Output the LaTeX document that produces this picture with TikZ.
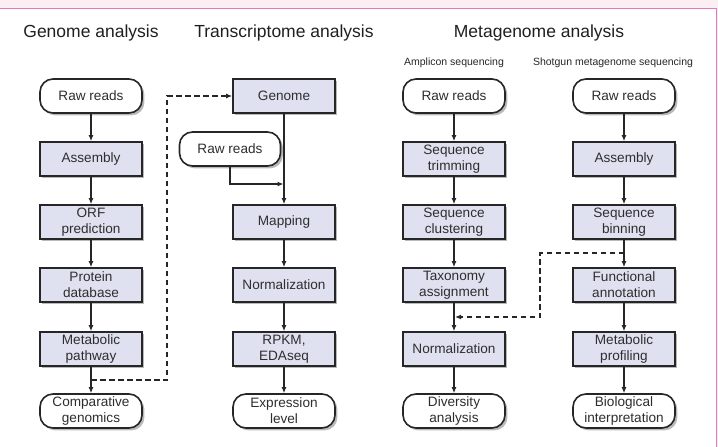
\documentclass[tikz,border=0pt]{standalone}
\usepackage{fontspec}
\setmainfont{Liberation Sans}
\usetikzlibrary{arrows.meta,shadows}
\definecolor{boxfill}{HTML}{DFE1F0}
\definecolor{linecol}{HTML}{262626}
\definecolor{txtcol}{HTML}{2E2E2E}
\definecolor{pinkline}{HTML}{E27AB8}
\definecolor{pinkband}{HTML}{FCEFF4}
\newcommand{\boxfont}{\fontsize{13.6}{15.8}\selectfont}
\newcommand{\titlefont}{\fontsize{17.5}{20}\selectfont}
\newcommand{\subfont}{\fontsize{10.5}{12}\selectfont}
\begin{document}
\begin{tikzpicture}[x=1pt,y=-1pt,
  base/.style={draw=linecol, line width=1.6pt, minimum width=102pt, minimum height=34pt,
    inner sep=1pt, align=center, font=\boxfont, text=txtcol,
    drop shadow={shadow xshift=2.4pt, shadow yshift=-2.4pt, fill=black!50, opacity=0.55}},
  stepbox/.style={base, fill=boxfill},
  termbox/.style={base, fill=white, rounded corners=13pt},
  conn/.style={draw=linecol, line width=1.4pt, -{Latex[length=6pt,width=5pt]}},
  dconn/.style={conn, dash pattern=on 5.5pt off 3.5pt},
  ttl/.style={font=\titlefont, text=black!88, anchor=base, inner sep=0pt},
  sub/.style={font=\subfont, text=black!85, anchor=base, inner sep=0pt}]
\useasboundingbox (0,0) rectangle (718,447);
% frame
\fill[pinkband] (0,0) rectangle (718,8);
\fill[pinkband] (716,8) rectangle (718,447);
\draw[pinkline, line width=1pt] (0,8) -- (716,8) -- (716,447);
% titles
\node[ttl] (T1) at (91,37) {Genome analysis};
\node[ttl] (T2) at (284,37) {Transcriptome analysis};
\node[ttl] (T3) at (539,37) {Metagenome analysis};
\node[sub] (S1) at (454,65) {Amplicon sequencing};
\node[sub] (S2) at (613,65) {Shotgun metagenome sequencing};
% genome
\node[termbox] (g1) at (91,96) {Raw reads};
\node[stepbox] (g2) at (91,159) {Assembly};
\node[stepbox] (g3) at (91,222) {ORF\\prediction};
\node[stepbox] (g4) at (91,285) {Protein\\database};
\node[stepbox] (g5) at (91,349) {Metabolic\\pathway};
\node[termbox] (g6) at (91,411) {Comparative\\genomics};
% transcriptome
\node[stepbox] (t1) at (284,96) {Genome};
\node[termbox, minimum width=101pt] (tr) at (230,149) {Raw reads};
\node[stepbox] (t2) at (284,222) {Mapping};
\node[stepbox] (t3) at (284,285) {Normalization};
\node[stepbox] (t4) at (284,349) {RPKM,\\EDAseq};
\node[termbox] (t5) at (284,411) {Expression\\level};
% amplicon
\node[termbox] (a1) at (454,96) {Raw reads};
\node[stepbox] (a2) at (454,159) {Sequence\\trimming};
\node[stepbox] (a3) at (454,222) {Sequence\\clustering};
\node[stepbox] (a4) at (454,285) {Taxonomy\\assignment};
\node[stepbox] (a5) at (454,349) {Normalization};
\node[termbox] (a6) at (454,411) {Diversity\\analysis};
% shotgun
\node[termbox] (s1) at (624,96) {Raw reads};
\node[stepbox] (s2) at (624,159) {Assembly};
\node[stepbox] (s3) at (624,222) {Sequence\\binning};
\node[stepbox] (s4) at (624,285) {Functional\\annotation};
\node[stepbox] (s5) at (624,349) {Metabolic\\profiling};
\node[termbox] (s6) at (624,411) {Biological\\interpretation};
% solid arrows
\foreach \c in {g,a,s}{
  \draw[conn] (\c1) -- (\c2);
  \draw[conn] (\c2) -- (\c3);
  \draw[conn] (\c3) -- (\c4);
  \draw[conn] (\c4) -- (\c5);
  \draw[conn] (\c5) -- (\c6);
}
\draw[conn] (t1) -- (t2);
\draw[conn] (t2) -- (t3);
\draw[conn] (t3) -- (t4);
\draw[conn] (t4) -- (t5);
\coordinate (tj) at (283.5,184);
\draw[conn] (tr.south) |- (tj);
% dashed links
\coordinate (gd) at (91,380);
\coordinate (gc1) at (167,380);
\coordinate (gc2) at (167,96);
\draw[dconn] (gd) -- (gc1) -- (gc2) -- (t1.west);
\coordinate (md) at (624,253);
\coordinate (mc1) at (540,253);
\coordinate (mc2) at (540,317);
\coordinate (me) at (455,317);
\draw[dconn] (md) -- (mc1) -- (mc2) -- (me);
\end{tikzpicture}
\end{document}
